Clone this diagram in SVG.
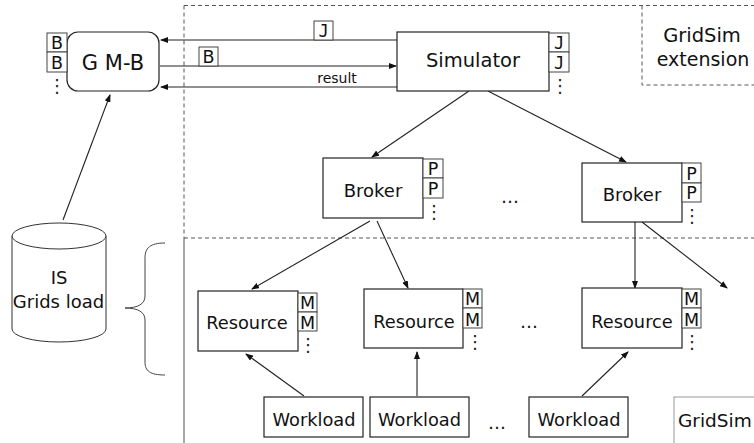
<svg xmlns="http://www.w3.org/2000/svg" width="754" height="443" viewBox="0 0 754 443">
<style>
.box{fill:#fff;stroke:#222;stroke-width:1.2}
.sb{fill:#fff;stroke:#444;stroke-width:1}
.dash{fill:none;stroke:#555;stroke-width:1;stroke-dasharray:4,3}
.ln{fill:none;stroke:#222;stroke-width:1.1}
.t{font-family:"DejaVu Sans",Verdana,sans-serif;fill:#111;text-anchor:middle}
.m{font-family:"DejaVu Sans Mono","Liberation Mono",monospace;fill:#111;text-anchor:middle}
.k{font-family:"DejaVu Sans",Verdana,sans-serif;fill:#111;text-anchor:middle;font-size:17.5px}
.v{font-family:"DejaVu Sans",Verdana,sans-serif;fill:#222;text-anchor:middle;font-size:18px}
</style>
<defs>
<marker id="ah" markerWidth="8" markerHeight="6" refX="7" refY="3" orient="auto" markerUnits="userSpaceOnUse">
<path d="M0,0 L8,3 L0,6 z" fill="#111"/>
</marker>
</defs>
<rect width="754" height="443" fill="#fff"/>
<g id="frames">
<path class="dash" d="M184,5.5 H754 M184,5.5 V238 M184,238 H754"/>
<path d="M184,238 V443" fill="none" stroke="#555" stroke-width="1"/>
<path class="dash" d="M642,5.5 V85 H754"/>
<path d="M165,243 C150,243 145,248 145,258 L145,296 C145,304 138,308 125,308 C138,308 145,312 145,320 L145,362 C145,371 150,375 165,375" fill="none" stroke="#444" stroke-width="1"/>
</g>
<g id="connectors">
<line class="ln" x1="397" y1="40" x2="161" y2="40" marker-end="url(#ah)"/>
<line class="ln" x1="160" y1="66" x2="396" y2="66" marker-end="url(#ah)"/>
<line class="ln" x1="397" y1="87" x2="161" y2="87" marker-end="url(#ah)"/>
<line class="ln" x1="63" y1="220" x2="110" y2="95" marker-end="url(#ah)"/>
<line class="ln" x1="469" y1="91" x2="372" y2="157" marker-end="url(#ah)"/>
<line class="ln" x1="488" y1="91" x2="626" y2="162" marker-end="url(#ah)"/>
<line class="ln" x1="370" y1="221" x2="252" y2="289" marker-end="url(#ah)"/>
<line class="ln" x1="377" y1="221" x2="408" y2="288" marker-end="url(#ah)"/>
<line class="ln" x1="635" y1="222" x2="635" y2="288" marker-end="url(#ah)"/>
<line class="ln" x1="642" y1="222" x2="727" y2="288" marker-end="url(#ah)"/>
<line class="ln" x1="304" y1="396" x2="246" y2="354" marker-end="url(#ah)"/>
<line class="ln" x1="417" y1="396" x2="417" y2="352" marker-end="url(#ah)"/>
<line class="ln" x1="582" y1="396" x2="628" y2="352" marker-end="url(#ah)"/>
<rect class="sb" x="314" y="21" width="19" height="19"/>
<text class="m" x="323.5" y="36.5" font-size="17">J</text>
<rect class="sb" x="199" y="47" width="19" height="19"/>
<text class="k" x="208.5" y="63">B</text>
<text class="t" x="337" y="83" font-size="14">result</text>
</g>
<g id="gmb">
<rect class="box" x="67" y="32" width="92" height="59" rx="11"/>
<text class="t" x="113" y="70" font-size="21">G M-B</text>
<rect class="sb" x="47" y="33" width="20" height="19"/>
<rect class="sb" x="47" y="52" width="20" height="20"/>
<text class="k" x="57" y="49">B</text>
<text class="k" x="57" y="69">B</text>
<text class="v" x="57" y="92">⋮</text>
</g>
<g id="simulator">
<rect class="box" x="397" y="32" width="152" height="59"/>
<text class="t" x="473" y="67" font-size="19.5">Simulator</text>
<rect class="sb" x="549" y="33" width="20" height="19"/>
<rect class="sb" x="549" y="52" width="20" height="20"/>
<text class="m" x="559" y="48.5" font-size="17">J</text>
<text class="m" x="559" y="68.5" font-size="17">J</text>
<text class="v" x="560" y="92">⋮</text>
</g>
<g id="gridsim-ext">
<text class="t" x="702" y="42" font-size="19.5">GridSim</text>
<text class="t" x="703" y="66" font-size="19">extension</text>
</g>
<g id="broker1">
<rect class="box" x="323" y="158" width="100" height="60"/>
<text class="t" x="373" y="197" font-size="18">Broker</text>
<rect class="sb" x="423" y="159" width="20" height="19"/>
<rect class="sb" x="423" y="178" width="20" height="20"/>
<text class="k" x="433" y="175">P</text>
<text class="k" x="433" y="195">P</text>
<text class="v" x="434" y="218">⋮</text>
</g>
<text class="t" x="510" y="203" font-size="18">…</text>
<g id="broker2">
<rect class="box" x="582" y="163" width="100" height="59"/>
<text class="t" x="632" y="201" font-size="18">Broker</text>
<rect class="sb" x="682" y="163" width="19" height="20"/>
<rect class="sb" x="682" y="183" width="19" height="19"/>
<text class="k" x="691.5" y="180">P</text>
<text class="k" x="691.5" y="199">P</text>
<text class="v" x="692" y="222">⋮</text>
</g>
<g id="is">
<path d="M12,236 V329 A47,13 0 0 0 106,329 V236" fill="#fff" stroke="#333" stroke-width="1"/>
<ellipse cx="59" cy="236" rx="47" ry="13" fill="#fff" stroke="#333" stroke-width="1"/>
<text class="t" x="59" y="284" font-size="18">IS</text>
<text class="t" x="58.5" y="308" font-size="18">Grids load</text>
</g>
<g id="resource1">
<rect class="box" x="198" y="291" width="100" height="60"/>
<text class="t" x="247" y="329" font-size="17.8">Resource</text>
<rect class="sb" x="298" y="293" width="19" height="19"/>
<rect class="sb" x="298" y="312" width="19" height="19"/>
<text class="k" x="307.5" y="309">M</text>
<text class="k" x="307.5" y="328.5">M</text>
<text class="v" x="308" y="351">⋮</text>
</g>
<g id="resource2">
<rect class="box" x="364" y="289" width="99" height="59"/>
<text class="t" x="414" y="328" font-size="17.8">Resource</text>
<rect class="sb" x="463" y="289" width="19" height="19"/>
<rect class="sb" x="463" y="308" width="19" height="20"/>
<text class="k" x="472.5" y="305">M</text>
<text class="k" x="472.5" y="325.5">M</text>
<text class="v" x="475" y="348">⋮</text>
</g>
<text class="t" x="529" y="328" font-size="18">…</text>
<g id="resource3">
<rect class="box" x="582" y="288" width="100" height="60"/>
<text class="t" x="632" y="328" font-size="17.8">Resource</text>
<rect class="sb" x="682" y="289" width="19" height="19"/>
<rect class="sb" x="682" y="308" width="19" height="20"/>
<text class="k" x="691.5" y="305">M</text>
<text class="k" x="691.5" y="325.5">M</text>
<text class="v" x="692" y="348">⋮</text>
</g>
<g id="workload1">
<rect class="box" x="264" y="397" width="99" height="40"/>
<text class="t" x="314" y="426" font-size="17.8">Workload</text>
</g>
<g id="workload2">
<rect class="box" x="370" y="397" width="99" height="40"/>
<text class="t" x="419.5" y="426" font-size="17.8">Workload</text>
</g>
<text class="t" x="497" y="429" font-size="18">…</text>
<g id="workload3">
<rect class="box" x="529" y="397" width="99" height="40"/>
<text class="t" x="579" y="426" font-size="17.8">Workload</text>
</g>
<g id="gridsim">
<rect x="674" y="397" width="100" height="60" fill="#fff" stroke="#999" stroke-width="1"/>
<text class="t" x="678" y="427" font-size="18.5" style="text-anchor:start">GridSim</text>
</g>
</svg>
